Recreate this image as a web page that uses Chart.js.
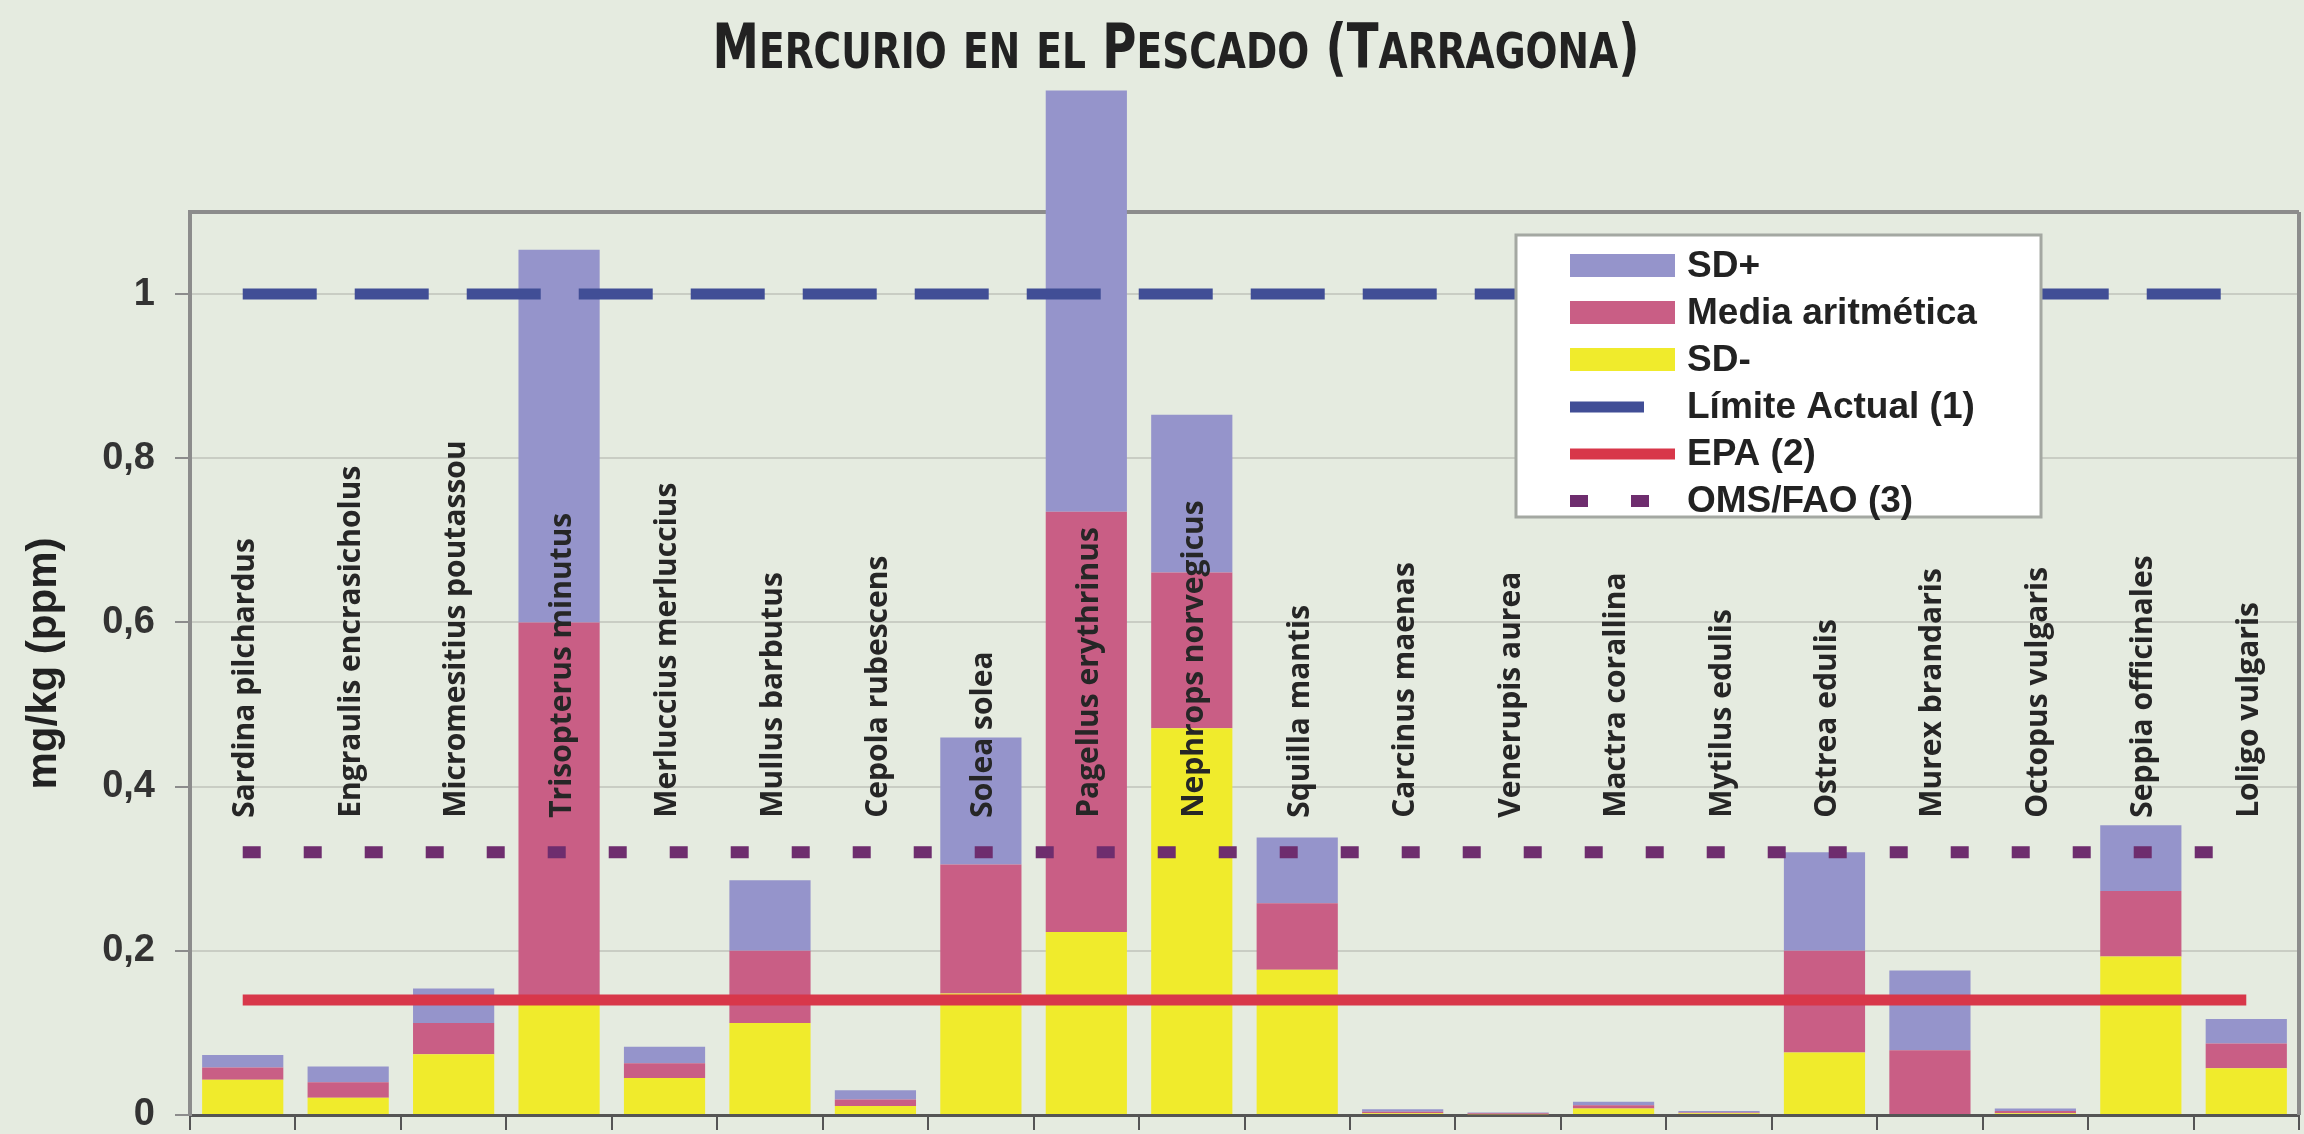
<!DOCTYPE html>
<html lang="es">
<head>
<meta charset="utf-8">
<title>Mercurio en el Pescado (Tarragona)</title>
<script src="https://cdn.jsdelivr.net/npm/chart.js@4.4.1/dist/chart.umd.min.js"></script>
<style>
  html, body { margin: 0; padding: 0; background: #e5ebe0; }
  canvas { display: block; }
</style>
</head>
<body>
<canvas id="myChart" width="2304" height="1134"></canvas>
<script>
'use strict';

// species sampled (x axis)
let species = [
  'Sardina pilchardus', 'Engraulis encrasicholus', 'Micromesitius poutassou',
  'Trisopterus minutus', 'Merluccius merluccius', 'Mullus barbutus',
  'Cepola rubescens', 'Solea solea', 'Pagellus erythrinus', 'Nephrops norvegicus',
  'Squilla mantis', 'Carcinus maenas', 'Venerupis aurea', 'Mactra corallina',
  'Mytilus edulis', 'Ostrea edulis', 'Murex brandaris', 'Octopus vulgaris',
  'Seppia officinales', 'Loligo vulgaris'
];

// mg/kg: mean - SD, mean, mean + SD
let sdMinus = [0.043, 0.021, 0.074, 0.134, 0.045, 0.112, 0.011, 0.148, 0.223, 0.471,
  0.177, 0.002, 0.001, 0.008, 0.002, 0.076, 0, 0.002, 0.193, 0.057];
let media = [0.058, 0.040, 0.112, 0.600, 0.063, 0.200, 0.019, 0.305, 0.735, 0.661,
  0.258, 0.004, 0.002, 0.012, 0.003, 0.200, 0.079, 0.005, 0.273, 0.087];
let sdPlus = [0.073, 0.059, 0.154, 1.054, 0.083, 0.286, 0.030, 0.460, 1.248, 0.853,
  0.338, 0.007, 0.003, 0.016, 0.005, 0.320, 0.176, 0.008, 0.353, 0.117];

// reference limits
let limiteActual = 1.0;
let epa = 0.14;
let omsFao = 0.32;

let yTicks = [0, 0.2, 0.4, 0.6, 0.8, 1];
let yMax = 1.1;
let labelFloor = 0.362; // species names start at this height

let chartTitle = 'Mercurio en el Pescado (Tarragona)';
let legendOrder = ['SD+', 'Media aritmética', 'SD-', 'Límite Actual (1)', 'EPA (2)', 'OMS/FAO (3)'];

function pairs(lo, hi) {
  let out = [];
  for (let i = 0; i < lo.length; i++) {
    out.push([lo[i], hi[i]]);
  }
  return out;
}

function flat(value) {
  return species.map(() => value);
}

// paints the page colour behind everything
const background = {
  id: 'background',
  beforeDraw(chart) {
    const ctx = chart.ctx;
    ctx.save();
    ctx.fillStyle = '#e5ebe0';
    ctx.fillRect(0, 0, chart.width, chart.height);
    ctx.restore();
  },
  beforeDatasetsDraw(chart) {
    // right edge of the plot frame
    const ctx = chart.ctx;
    const area = chart.chartArea;
    ctx.save();
    ctx.strokeStyle = '#8c8c8c';
    ctx.lineWidth = 4;
    ctx.beginPath();
    ctx.moveTo(area.right, area.top);
    ctx.lineTo(area.right, area.bottom);
    ctx.stroke();
    ctx.restore();
  }
};

// title in condensed small caps (capitals a bit taller than the rest)
const smallCapsTitle = {
  id: 'smallCapsTitle',
  afterDraw(chart) {
    const ctx = chart.ctx;
    let family = '"DejaVu Sans Condensed", "DejaVu Sans"';
    let bigFont = 'bold 62px ' + family;
    let smallFont = 'bold 50px ' + family;
    let glyphs = [];
    let total = 0;
    ctx.save();
    for (const ch of chartTitle) {
      let small = ch !== ch.toUpperCase();
      ctx.font = small ? smallFont : bigFont;
      let g = { ch: ch.toUpperCase(), font: ctx.font };
      g.w = ctx.measureText(g.ch).width;
      total += g.w;
      glyphs.push(g);
    }
    let targetWidth = 927;
    let centerX = chart.width / 2 + 24;
    let sx = targetWidth / total;
    ctx.translate(centerX - targetWidth / 2, 68);
    ctx.scale(sx, 1);
    ctx.fillStyle = '#222';
    ctx.textBaseline = 'alphabetic';
    ctx.textAlign = 'left';
    let x = 0;
    for (const g of glyphs) {
      ctx.font = g.font;
      ctx.fillText(g.ch, x, 0);
      x += g.w;
    }
    ctx.restore();
  }
};

// vertical species names standing inside the plot
const speciesNames = {
  id: 'speciesNames',
  afterDatasetsDraw(chart) {
    const ctx = chart.ctx;
    const xScale = chart.scales.x;
    const yScale = chart.scales.y;
    ctx.save();
    ctx.font = 'bold 30px "Open Sans", "DejaVu Sans"';
    ctx.fillStyle = '#262626';
    ctx.textAlign = 'left';
    ctx.textBaseline = 'middle';
    for (let i = 0; i < species.length; i++) {
      ctx.save();
      ctx.translate(xScale.getPixelForValue(i) + 3, yScale.getPixelForValue(labelFloor));
      ctx.rotate(-Math.PI / 2);
      ctx.fillText(species[i], 0, 0);
      ctx.restore();
    }
    ctx.restore();
  }
};

// boxed legend in the upper right of the plot
const legendBox = {
  id: 'legendBox',
  afterDraw(chart) {
    const ctx = chart.ctx;
    const area = chart.chartArea;
    let left = area.right - 783;
    let top = area.top + 23;
    ctx.save();
    ctx.fillStyle = '#ffffff';
    ctx.fillRect(left, top, 525, 282);
    ctx.strokeStyle = '#a4a8a2';
    ctx.lineWidth = 3;
    ctx.strokeRect(left, top, 525, 282);

    ctx.font = 'bold 37px "Liberation Sans", Arial';
    ctx.textAlign = 'left';
    ctx.textBaseline = 'middle';
    for (let i = 0; i < legendOrder.length; i++) {
      let ds = chart.data.datasets.find(d => d.label === legendOrder[i]);
      let rowY = top + 31 + i * 47;
      if (ds.type === 'line') {
        ctx.strokeStyle = ds.borderColor;
        ctx.lineWidth = ds.borderWidth;
        ctx.setLineDash(ds.borderDash || []);
        ctx.beginPath();
        ctx.moveTo(left + 54, rowY);
        ctx.lineTo(left + 159, rowY);
        ctx.stroke();
        ctx.setLineDash([]);
      } else {
        ctx.fillStyle = ds.backgroundColor;
        ctx.fillRect(left + 54, rowY - 12, 105, 23);
      }
      ctx.fillStyle = '#222';
      ctx.fillText(ds.label, left + 171, rowY + 1);
    }
    ctx.restore();
  }
};

const ctx = document.getElementById('myChart');

new Chart(ctx, {
  type: 'bar',
  data: {
    labels: species,
    datasets: [
      {
        type: 'line',
        label: 'Límite Actual (1)',
        data: flat(limiteActual),
        borderColor: '#414e96',
        borderWidth: 11,
        borderDash: [74, 38],
        pointRadius: 0,
        order: 0
      },
      {
        type: 'line',
        label: 'EPA (2)',
        data: flat(epa),
        borderColor: '#d8374a',
        borderWidth: 11,
        pointRadius: 0,
        order: 0
      },
      {
        type: 'line',
        label: 'OMS/FAO (3)',
        data: flat(omsFao),
        borderColor: '#6e2d6e',
        borderWidth: 12,
        borderDash: [18, 43],
        pointRadius: 0,
        order: 0
      },
      {
        label: 'SD-',
        data: pairs(species.map(() => 0), sdMinus),
        backgroundColor: '#f0eb2c',
        order: 1
      },
      {
        label: 'Media aritmética',
        data: pairs(sdMinus, media),
        backgroundColor: '#c95e85',
        order: 1
      },
      {
        label: 'SD+',
        data: pairs(media, sdPlus),
        backgroundColor: '#9594cb',
        order: 1
      }
    ]
  },
  options: {
    responsive: false,
    animation: false,
    devicePixelRatio: 1,
    layout: { padding: { top: 212, right: 5, bottom: 0, left: 0 } },
    datasets: {
      bar: {
        grouped: false,
        categoryPercentage: 1,
        barPercentage: 0.77,
        borderWidth: 0,
        clip: false
      }
    },
    plugins: {
      legend: { display: false },
      tooltip: { enabled: false },
      title: { display: false }
    },
    scales: {
      x: {
        offset: true,
        afterFit: (scale) => { scale.height = 19; },
        grid: {
          offset: true,
          drawOnChartArea: false,
          tickLength: 15,
          tickColor: '#555',
          lineWidth: 2
        },
        border: { color: '#555', width: 3 },
        ticks: { display: false }
      },
      y: {
        min: 0,
        max: yMax,
        afterBuildTicks: (scale) => {
          scale.ticks = yTicks.concat([yMax]).map(v => ({ value: v }));
        },
        afterFit: (scale) => {
          scale.width = 190;
          scale.paddingTop = 0;
          scale.paddingBottom = 0;
        },
        grid: {
          color: (c) => c.tick.value >= yMax ? '#8c8c8c' : (c.tick.value === 0 ? 'rgba(0,0,0,0)' : '#c9cdc4'),
          lineWidth: (c) => c.tick.value >= yMax ? 4 : 2,
          tickLength: 15,
          tickColor: (c) => c.tick.value >= yMax ? 'rgba(0,0,0,0)' : '#8c8c8c'
        },
        border: { color: '#8c8c8c', width: 4 },
        ticks: {
          padding: 20,
          color: '#333',
          font: { family: '"Liberation Sans", Arial', size: 38, weight: 'bold' },
          callback: (value) => value > 1.05 ? '' : String(value).replace('.', ',')
        },
        title: {
          display: true,
          text: 'mg/kg (ppm)',
          color: '#222',
          font: { family: '"Liberation Sans", Arial', size: 42, weight: 'bold' },
          padding: { top: 19, bottom: 0 }
        }
      }
    }
  },
  plugins: [background, speciesNames, legendBox, smallCapsTitle]
});
</script>
</body>
</html>
